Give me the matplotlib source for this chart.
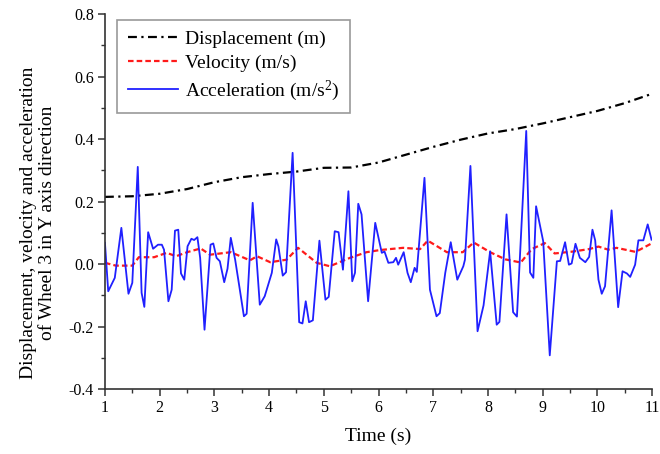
import matplotlib
matplotlib.use("Agg")

import matplotlib.pyplot as plt
from matplotlib.ticker import MultipleLocator, FormatStrFormatter

plt.rcParams["font.family"] = ["Liberation Serif", "DejaVu Serif"]
plt.rcParams["mathtext.fontset"] = "custom"
plt.rcParams["mathtext.rm"] = "Liberation Serif"
plt.rcParams["mathtext.it"] = "Liberation Serif"

# displacement (m)
disp_t = [1.0, 1.5, 2.0, 2.5, 3.0, 3.5, 4.0, 4.5, 5.0, 5.5, 6.0,
          6.5, 7.0, 7.5, 8.0, 8.5, 9.0, 9.5, 10.0, 10.5, 11.0]
disp = [0.215, 0.217, 0.225, 0.240, 0.262, 0.278, 0.288, 0.296, 0.308, 0.309, 0.325,
        0.350, 0.375, 0.398, 0.418, 0.432, 0.450, 0.470, 0.490, 0.515, 0.545]

# velocity (m/s)
vel_t = [1.0, 1.2, 1.5, 1.62, 1.9, 2.13, 2.3, 2.5, 2.75, 2.92, 3.3, 3.65, 3.78,
         4.02, 4.32, 4.53, 4.87, 5.11, 5.48, 5.78, 6.03, 6.45, 6.76, 6.9, 7.25,
         7.54, 7.74, 8.04, 8.32, 8.6, 8.8, 9.04, 9.22, 9.55, 9.85, 10.02, 10.2,
         10.35, 10.7, 11.0]
vel = [0.004, -0.005, -0.005, 0.022, 0.022, 0.036, 0.025, 0.038, 0.050, 0.030,
       0.038, 0.012, 0.025, 0.006, 0.014, 0.052, 0.004, -0.007, 0.020, 0.038,
       0.045, 0.052, 0.048, 0.075, 0.038, 0.038, 0.069, 0.038, 0.015, 0.005,
       0.048, 0.067, 0.034, 0.040, 0.048, 0.056, 0.046, 0.052, 0.039, 0.067]

# acceleration (m/s^2)
acc_t = [1.00, 1.06, 1.18, 1.30, 1.43, 1.50, 1.60, 1.67, 1.72, 1.79, 1.88, 1.97,
         2.04, 2.08, 2.16, 2.22, 2.28, 2.34, 2.39, 2.45, 2.51, 2.58, 2.63, 2.69,
         2.74, 2.82, 2.93, 2.98, 3.04, 3.10, 3.18, 3.24, 3.30, 3.38, 3.46, 3.54,
         3.59, 3.70, 3.83, 3.92, 4.05, 4.13, 4.17, 4.25, 4.31, 4.43, 4.55, 4.61,
         4.67, 4.73, 4.80, 4.92, 5.03, 5.09, 5.20, 5.27, 5.35, 5.45, 5.52, 5.57,
         5.63, 5.69, 5.81, 5.94, 6.06, 6.11, 6.18, 6.27, 6.32, 6.36, 6.46, 6.53,
         6.59, 6.66, 6.70, 6.84, 6.94, 7.06, 7.12, 7.22, 7.32, 7.44, 7.55, 7.58,
         7.68, 7.81, 7.92, 8.04, 8.16, 8.21, 8.34, 8.46, 8.53, 8.70, 8.77, 8.83,
         8.88, 9.01, 9.13, 9.26, 9.32, 9.41, 9.48, 9.53, 9.60, 9.68, 9.78, 9.85,
         9.91, 9.96, 10.02, 10.08, 10.14, 10.26, 10.38, 10.46, 10.54, 10.60,
         10.69, 10.75, 10.84, 10.92, 10.99]
acc = [0.068, -0.087, -0.044, 0.116, -0.095, -0.060, 0.311, -0.092, -0.137, 0.102,
       0.049, 0.062, 0.062, 0.046, -0.119, -0.082, 0.107, 0.110, -0.030, -0.050,
       0.057, 0.081, 0.077, 0.086, 0.020, -0.210, 0.062, 0.066, 0.020, 0.009,
       -0.058, -0.015, 0.084, 0.014, -0.076, -0.167, -0.159, 0.196, -0.130, -0.103,
       -0.028, 0.079, 0.057, -0.037, -0.026, 0.356, -0.186, -0.190, -0.119, -0.186,
       -0.180, 0.075, -0.114, -0.105, 0.105, 0.102, -0.018, 0.233, -0.055, -0.028,
       0.193, 0.159, -0.119, 0.132, 0.036, 0.040, 0.004, 0.006, 0.020, -0.002,
       0.038, -0.028, -0.058, -0.012, -0.025, 0.276, -0.082, -0.167, -0.157, -0.028,
       0.070, -0.050, -0.007, 0.014, 0.314, -0.215, -0.132, 0.041, -0.194, -0.185,
       0.159, -0.154, -0.168, 0.426, -0.027, -0.044, 0.185, 0.073, -0.292, 0.009,
       0.010, 0.070, -0.002, 0.002, 0.065, 0.020, 0.006, 0.023, 0.110, 0.076,
       -0.050, -0.095, -0.071, 0.172, -0.138, -0.023, -0.030, -0.041, -0.002, 0.076,
       0.076, 0.127, 0.078]


def main():
    fig = plt.figure(figsize=(6.6, 4.54), dpi=100)
    ax = fig.add_axes([0.159, 0.143, 0.829, 0.826])

    ax.plot(disp_t, disp, color="black", lw=1.6, linestyle=(0, (4, 2, 1, 2)),
            label="Displacement (m)")
    ax.plot(vel_t, vel, color="#ff1a1a", lw=1.6, linestyle=(0, (2.5, 1.4)),
            label="Velocity (m/s)")
    ax.plot(acc_t, acc, color="#2020ff", lw=1.3,
            label="Acceleration (m/s$^{2}$)")

    ax.set_xlim(1, 11)
    ax.set_ylim(-0.4, 0.8)
    ax.xaxis.set_major_locator(MultipleLocator(1))
    ax.xaxis.set_minor_locator(MultipleLocator(0.5))
    ax.yaxis.set_major_locator(MultipleLocator(0.2))
    ax.yaxis.set_minor_locator(MultipleLocator(0.1))
    ax.yaxis.set_major_formatter(FormatStrFormatter("%.1f"))

    for side in ("top", "right"):
        ax.spines[side].set_visible(False)
    for side in ("left", "bottom"):
        ax.spines[side].set_linewidth(1.2)
        ax.spines[side].set_color("#333333")
    ax.tick_params(which="major", direction="out", length=5, width=1.1,
                   color="#333333", labelsize=11.5, pad=3)
    ax.tick_params(which="minor", direction="out", length=3, width=1.0,
                   color="#333333")

    ax.set_xlabel("Time (s)", fontsize=14, labelpad=8)
    ax.set_ylabel("Displacement, velocity and acceleration\n"
                  "of Wheel 3 in Y axis direction", fontsize=14,
                  linespacing=1.15)
    ax.yaxis.set_label_coords(-0.09, 0.443)

    leg = ax.legend(loc="upper left", bbox_to_anchor=(0.022, 0.985), borderaxespad=0,
                    fontsize=14, handlelength=2.6, handletextpad=0.35,
                    labelspacing=0.32, borderpad=0.55, fancybox=False, framealpha=1)
    leg.get_frame().set_edgecolor("#999999")
    leg.get_frame().set_linewidth(1.2)

    fig.savefig("out.png", dpi=100)
    plt.close(fig)


if __name__ == "__main__":
    main()
